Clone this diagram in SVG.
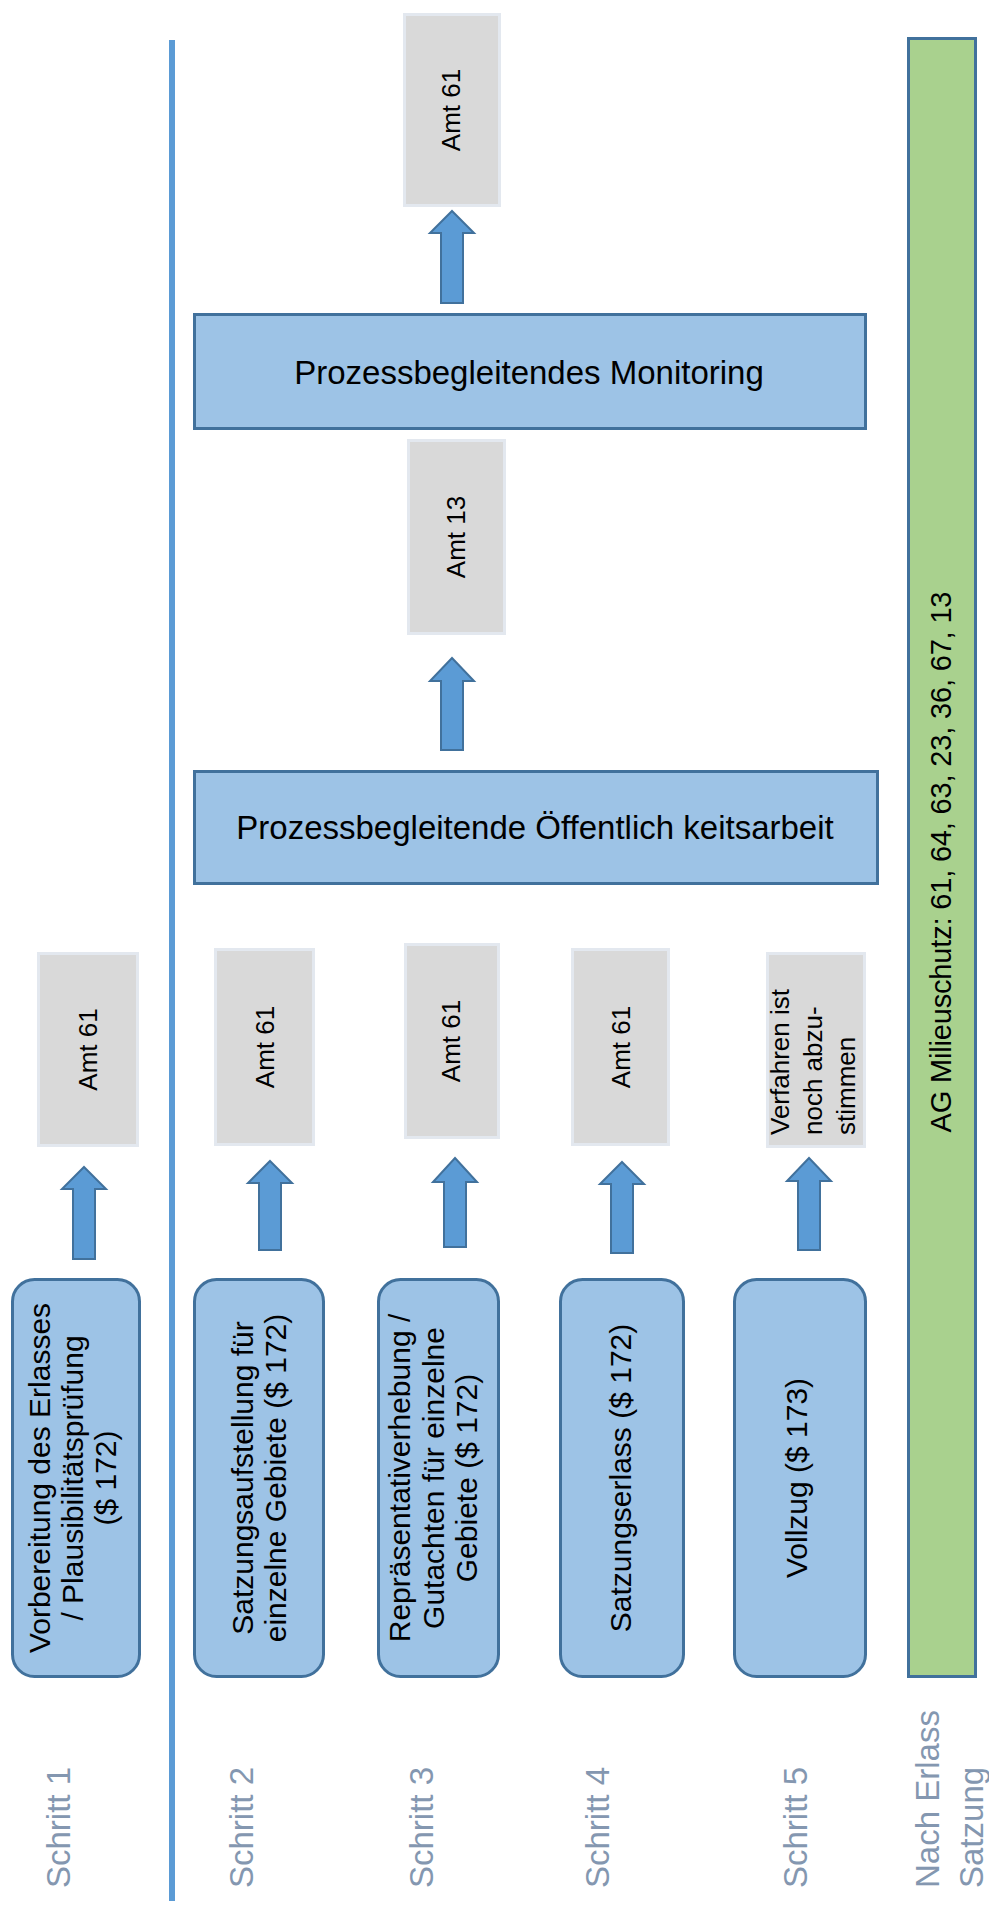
<svg xmlns="http://www.w3.org/2000/svg" width="989" height="1910" viewBox="0 0 989 1910">
<style>
.step{fill:#9DC3E6;stroke:#41719C;stroke-width:3}
.band{fill:#9DC3E6;stroke:#41719C;stroke-width:3}
.amt{fill:#D9D9D9;stroke:#E3E8EF;stroke-width:3}
.green{fill:#A9D18E;stroke:#41719C;stroke-width:3}
.arrow{fill:#5B9BD5;stroke:#41719C;stroke-width:2;stroke-linejoin:miter}
text{font-family:"Liberation Sans",Arial,sans-serif;fill:#000}
.t30{font-size:30px}
.t26{font-size:26px}
.t33{font-size:33px}
.lbl{font-size:33px;fill:#8497B0}
</style>
<rect width="989" height="1910" fill="#fff"/>
<rect id="divider" x="169" y="40" width="6" height="1861" fill="#5B9BD5"/>

<g id="labels">
<text class="lbl" transform="translate(70,1888) rotate(-90)">Schritt 1</text>
<text class="lbl" transform="translate(253,1888) rotate(-90)">Schritt 2</text>
<text class="lbl" transform="translate(433,1888) rotate(-90)">Schritt 3</text>
<text class="lbl" transform="translate(609,1888) rotate(-90)">Schritt 4</text>
<text class="lbl" transform="translate(807,1888) rotate(-90)">Schritt 5</text>
<text class="lbl" transform="translate(939,1888) rotate(-90)">Nach Erlass</text>
<text class="lbl" transform="translate(983,1888) rotate(-90)">Satzung</text>
</g>

<g id="step1">
<rect class="step" x="12.5" y="1279.5" width="127" height="397" rx="22"/>
<text class="t30" text-anchor="middle" transform="translate(0,1478) rotate(-90)"><tspan x="0" y="49.5">Vorbereitung des Erlasses</tspan><tspan x="0" y="82.5">/ Plausibilitätsprüfung</tspan><tspan x="0" y="115.5">($ 172)</tspan></text>
</g>
<g id="step2">
<rect class="step" x="194.5" y="1279.5" width="129" height="397" rx="22"/>
<text class="t30" text-anchor="middle" transform="translate(0,1478) rotate(-90)"><tspan x="0" y="253">Satzungsaufstellung für</tspan><tspan x="0" y="286">einzelne Gebiete ($ 172)</tspan></text>
</g>
<g id="step3">
<rect class="step" x="378.5" y="1279.5" width="120" height="397" rx="22"/>
<text class="t30" text-anchor="middle" transform="translate(0,1478) rotate(-90)"><tspan x="0" y="410">Repräsentativerhebung /</tspan><tspan x="0" y="443.5">Gutachten für einzelne</tspan><tspan x="0" y="477">Gebiete ($ 172)</tspan></text>
</g>
<g id="step4">
<rect class="step" x="560.5" y="1279.5" width="123" height="397" rx="22"/>
<text class="t30" text-anchor="middle" transform="translate(0,1478) rotate(-90)"><tspan x="0" y="631">Satzungserlass ($ 172)</tspan></text>
</g>
<g id="step5">
<rect class="step" x="734.5" y="1279.5" width="131" height="397" rx="22"/>
<text class="t30" text-anchor="middle" transform="translate(0,1478) rotate(-90)"><tspan x="0" y="807">Vollzug ($ 173)</tspan></text>
</g>

<g id="amt1">
<rect class="amt" x="38.5" y="953.5" width="99" height="192"/>
<text class="t26" text-anchor="middle" transform="translate(97,1049.5) rotate(-90)">Amt 61</text>
</g>
<g id="amt2">
<rect class="amt" x="215.5" y="949.5" width="98" height="195"/>
<text class="t26" text-anchor="middle" transform="translate(274,1047) rotate(-90)">Amt 61</text>
</g>
<g id="amt3">
<rect class="amt" x="405.5" y="944.5" width="93" height="193"/>
<text class="t26" text-anchor="middle" transform="translate(460,1041) rotate(-90)">Amt 61</text>
</g>
<g id="amt4">
<rect class="amt" x="572.5" y="949.5" width="96" height="195"/>
<text class="t26" text-anchor="middle" transform="translate(630,1047) rotate(-90)">Amt 61</text>
</g>
<g id="amt5">
<rect class="amt" x="767.5" y="953.5" width="97" height="193"/>
<text class="t26" transform="translate(0,1135) rotate(-90)"><tspan x="0" y="789">Verfahren ist</tspan><tspan x="0" y="822">noch abzu-</tspan><tspan x="0" y="855">stimmen</tspan></text>
</g>

<g id="oeffentlichkeit">
<rect class="band" x="194.5" y="771.5" width="683" height="112"/>
<text class="t33" x="535" y="839" text-anchor="middle">Prozessbegleitende Öffentlich keitsarbeit</text>
</g>
<g id="amt13">
<rect class="amt" x="408.5" y="440.5" width="96" height="193"/>
<text class="t26" text-anchor="middle" transform="translate(465,537) rotate(-90)">Amt 13</text>
</g>
<g id="monitoring">
<rect class="band" x="194.5" y="314.5" width="671" height="114"/>
<text class="t33" x="529" y="384" text-anchor="middle">Prozessbegleitendes Monitoring</text>
</g>
<g id="amt61top">
<rect class="amt" x="404.5" y="14.5" width="95" height="191"/>
<text class="t26" text-anchor="middle" transform="translate(460,110) rotate(-90)">Amt 61</text>
</g>

<g id="ag">
<rect class="green" x="908.5" y="38.5" width="67" height="1638"/>
<text font-size="29" text-anchor="middle" textLength="541" lengthAdjust="spacing" transform="translate(951,862) rotate(-90)">AG Milieuschutz: 61, 64, 63, 23, 36, 67, 13</text>
</g>

<g id="connectors">
<path class="arrow" d="M84,1167 L106,1189 L95,1189 L95,1259 L73,1259 L73,1189 L62,1189 Z"/>
<path class="arrow" d="M270,1161 L292,1183 L281,1183 L281,1250 L259,1250 L259,1183 L248,1183 Z"/>
<path class="arrow" d="M455,1158 L477,1182 L466,1182 L466,1247 L444,1247 L444,1182 L433,1182 Z"/>
<path class="arrow" d="M622,1162 L644,1184 L633,1184 L633,1253 L611,1253 L611,1184 L600,1184 Z"/>
<path class="arrow" d="M809,1158 L831,1181 L820,1181 L820,1250 L798,1250 L798,1181 L787,1181 Z"/>
<path class="arrow" d="M452,658 L474,681 L463,681 L463,750 L441,750 L441,681 L430,681 Z"/>
<path class="arrow" d="M452,211 L474,233 L463,233 L463,303 L441,303 L441,233 L430,233 Z"/>
</g>
</svg>
